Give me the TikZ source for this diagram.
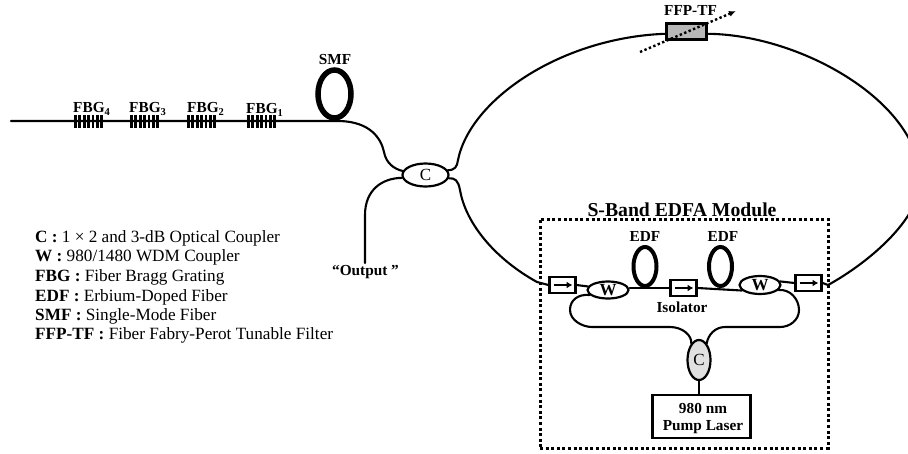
\documentclass[tikz,border=0pt]{standalone}
\usepackage{fontspec}
\setmainfont{Liberation Serif}
\usetikzlibrary{arrows.meta,shapes.geometric}
\tikzset{
  x=1pt,y=-1pt,
  fiber/.style={line width=2.1pt,line cap=round},
  coupler/.style={draw,ellipse,line width=2.2pt,fill=white,inner sep=0pt,minimum width=#1},
  isobox/.style={draw,line width=2.2pt,fill=white,inner sep=0pt,minimum width=26pt,minimum height=16pt},
  lbl/.style={font=\fontsize{15.3}{17}\selectfont\bfseries,inner sep=0pt},
  legend/.style={font=\fontsize{17.2}{19}\selectfont,anchor=base west,inner sep=0pt},
  tooth/.style={line width=2.8pt},
  loopc/.style={draw,ellipse,inner sep=0pt,fill=none},
}
\newcommand{\isoarrow}[1]{\draw[line width=2.2pt,-{Latex[length=6pt,width=7pt]}] ([xshift=-9pt]#1.center) -- ([xshift=10pt]#1.center);}
\newcommand{\grating}[2]{\foreach \k in {0,...,6} {\draw[tooth] ({#1+1.4+\k*4.4},115) -- ({#1+1.4+\k*4.4},128);}}
\newcommand{\lowsub}[1]{\raisebox{-3.5pt}{\fontsize{10.5}{12}\selectfont #1}}
\begin{document}
\begin{tikzpicture}
\useasboundingbox (0,0) rectangle (908,453);
% nodes
\node[coupler=46pt,minimum height=23pt,font=\fontsize{17}{19}\selectfont] (c1) at (425.5,175) {C};
\node[draw,line width=3.8pt,fill=black!28,minimum width=40pt,minimum height=16pt,inner sep=0pt] (ffp) at (686.5,31.5) {};
\node[coupler=41pt,minimum height=17pt,font=\fontsize{17}{19}\selectfont\bfseries] (w1) at (608,290) {W};
\node[coupler=41pt,minimum height=18pt,font=\fontsize{17}{19}\selectfont\bfseries] (w2) at (760,285) {W};
\node[isobox] (i1) at (562.5,285) {};
\node[isobox] (i2) at (683.5,288) {};
\node[isobox] (i3) at (808.5,283) {};
\node[coupler=23pt,minimum height=40pt,fill=black!12,font=\fontsize{17}{19}\selectfont] (c2) at (699,360) {C};
\node[draw,line width=2.2pt,minimum width=98pt,minimum height=43pt,inner sep=0pt] (pump) at (701.5,416.5) {};
\node[draw,line width=3pt,dash pattern=on 3pt off 2.6pt,minimum width=288pt,minimum height=229pt,inner sep=0pt] (module) at (684,333.5) {};
% coils
\node[loopc,line width=5.5pt,minimum width=33pt,minimum height=48pt] (smf) at (334.5,94) {};
\node[loopc,line width=4pt,minimum width=23pt,minimum height=39pt] (e1) at (645,266.5) {};
\node[loopc,line width=4pt,minimum width=23pt,minimum height=39pt] (e2) at (720.5,266.5) {};
% free ends
\coordinate (start) at (11,121);
\coordinate (out) at (365,263);
\coordinate (tfa) at (640,52);
\coordinate (tfb) at (736,11);
% fibres
\draw[fiber] (start) -- (340,121) .. controls (370,122) and (381,138) .. (384,152) .. controls (386,163) and (394,169) .. (c1.170);
\draw[fiber] (c1.187) .. controls (382,178) and (365,190) .. (365,215) -- (out);
\draw[fiber] (c1.12) .. controls (455,170) and (457,167) .. (458,160) .. controls (470,100) and (560,38) .. (ffp.186);
\draw[fiber] (ffp.-6) .. controls (800,35) and (915,100) .. (920,175) .. controls (925,215) and (870,262) .. (828,285) -- (i3.east);
\draw[fiber] (c1.-8) .. controls (455,178) and (458,180) .. (460,190) .. controls (466,225) and (497,260) .. (537,282) -- (i1.west);
\draw[fiber] (i1.east) -- (w1.170);
\draw[fiber] (i2.west -| w1.east) -- (i2.west);
\draw[fiber] (i2.east) -- (w2.197);
\draw[fiber] (w2.10) -- (i3.west);
\draw[fiber] (w1.195) .. controls (578,294) and (570,300) .. (570,310) .. controls (570,320) and (582,327) .. (592,327) -- (670,327) .. controls (682,327) and (692,335) .. (c2.115);
\draw[fiber] (w2.-15) .. controls (790,289) and (799,299) .. (799,310) .. controls (799,320) and (790,327) .. (780,327) -- (725,327) .. controls (715,327) and (708,335) .. (c2.65);
\draw[fiber] (c2.south) -- (pump.north -| c2.south);
\draw[line width=2.4pt,dash pattern=on 2.4pt off 2.4pt,-{Latex[length=7pt,width=6pt]}] (tfa) -- (tfb);
\isoarrow{i1}\isoarrow{i2}\isoarrow{i3}
% gratings
\grating{74}{}\grating{130}{}\grating{187}{}\grating{247}{}
% labels
\node[lbl,anchor=base west] (l4) at (73,112) {FBG\lowsub{4}};
\node[lbl,anchor=base west] (l3) at (129,112) {FBG\lowsub{3}};
\node[lbl,anchor=base west] (l2) at (187,112) {FBG\lowsub{2}};
\node[lbl,anchor=base west] (l1) at (246,113) {FBG\lowsub{1}};
\node[lbl] (lsmf) at (335,60) {SMF};
\node[lbl] (ltf) at (690.5,10.5) {FFP-TF};
\node[font=\fontsize{19.7}{22}\selectfont\bfseries,inner sep=0pt] (ltitle) at (682,209.5) {S-Band EDFA Module};
\node[lbl] (le1) at (645,237) {EDF};
\node[lbl] (le2) at (723,237) {EDF};
\node[lbl] (liso) at (682,307) {Isolator};
\node[lbl] (lout) at (365.5,272.5) {“Output ”};
\node[lbl] (lp1) at (703,408) {980 nm};
\node[lbl] (lp2) at (703,427) {Pump Laser};
\node[legend] (a) at (35,242) {\textbf{C :} 1 × 2 and 3-dB Optical Coupler};
\node[legend] (b) at (35,261) {\textbf{W :} 980/1480 WDM Coupler};
\node[legend] (d) at (35,281) {\textbf{FBG :} Fiber Bragg Grating};
\node[legend] (e) at (35,301) {\textbf{EDF :} Erbium-Doped Fiber};
\node[legend] (f) at (35,320) {\textbf{SMF :} Single-Mode Fiber};
\node[legend] (g) at (35,339) {\textbf{FFP-TF :} Fiber Fabry-Perot Tunable Filter};
\end{tikzpicture}
\end{document}
